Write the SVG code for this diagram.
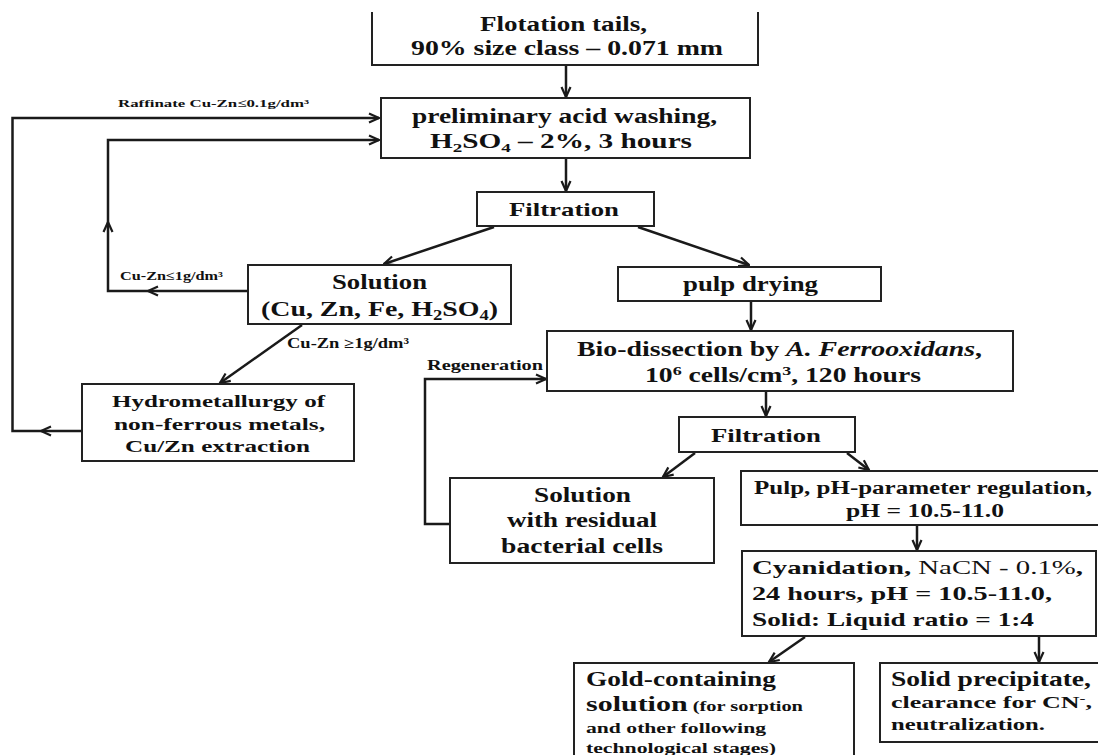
<svg xmlns="http://www.w3.org/2000/svg" width="1098" height="755" viewBox="0 0 1098 755">
<style>
.box{fill:#fff;stroke:#222;stroke-width:2}
.t{font-family:"Liberation Serif","Times New Roman",serif;font-weight:bold;fill:#111}
.n{font-weight:normal}
.c{fill:none;stroke:#1a1a1a;stroke-width:2.5}
</style>
<defs>
<marker id="ar" viewBox="0 0 12 12" refX="11" refY="6" markerWidth="12" markerHeight="12" markerUnits="userSpaceOnUse" orient="auto">
<path d="M1,1.5 L11,6 L1,10.5" fill="none" stroke="#1a1a1a" stroke-width="2.2"/>
</marker>
</defs>
<rect width="1098" height="755" fill="#fff"/>
<g id="connectors">
<path class="c" d="M566,66 V97" marker-end="url(#ar)"/>
<path class="c" d="M566,158 V191" marker-end="url(#ar)"/>
<path class="c" d="M494,227 L384,264" marker-end="url(#ar)"/>
<path class="c" d="M638,227 L749,265" marker-end="url(#ar)"/>
<path class="c" d="M248,291 H148" marker-end="url(#ar)"/>
<path class="c" d="M148,291 H108 V222" marker-end="url(#ar)"/>
<path class="c" d="M108,222 V140 H379" marker-end="url(#ar)"/>
<path class="c" d="M82,431 H41" marker-end="url(#ar)"/>
<path class="c" d="M41,431 H12.5 V118 H379" marker-end="url(#ar)"/>
<path class="c" d="M302,325 L220,383" marker-end="url(#ar)"/>
<path class="c" d="M751,301 V330" marker-end="url(#ar)"/>
<path class="c" d="M766,391 V416" marker-end="url(#ar)"/>
<path class="c" d="M450,524 H425 V379 H546" marker-end="url(#ar)"/>
<path class="c" d="M695,453 L663,477" marker-end="url(#ar)"/>
<path class="c" d="M847,453 L869,470" marker-end="url(#ar)"/>
<path class="c" d="M917,525 V550" marker-end="url(#ar)"/>
<path class="c" d="M805,637 L769,662" marker-end="url(#ar)"/>
<path class="c" d="M1039,636 V662" marker-end="url(#ar)"/>
<text class="t" x="118" y="107" font-size="11" textLength="191" lengthAdjust="spacingAndGlyphs">Raffinate  Cu-Zn≤0.1g/dm³</text>
<text class="t" x="120" y="280" font-size="12.5" textLength="103" lengthAdjust="spacingAndGlyphs">Cu-Zn≤1g/dm³</text>
<text class="t" x="287" y="348" font-size="14" textLength="122" lengthAdjust="spacingAndGlyphs">Cu-Zn ≥1g/dm³</text>
<text class="t" x="427" y="370" font-size="14.5" textLength="116" lengthAdjust="spacingAndGlyphs">Regeneration</text>
</g>
<g id="flotation">
<path d="M372,12 V65 H758 V12" fill="#fff" stroke="#222" stroke-width="2"/>
<text class="t" x="480" y="31" font-size="20" textLength="167" lengthAdjust="spacingAndGlyphs">Flotation tails,</text>
<text class="t" x="411" y="55" font-size="20" textLength="312" lengthAdjust="spacingAndGlyphs">90% size class – 0.071 mm</text>
</g>
<g id="washing">
<rect class="box" x="381" y="98" width="369" height="60"/>
<text class="t" x="412" y="123" font-size="20" textLength="305" lengthAdjust="spacingAndGlyphs">preliminary  acid  washing,</text>
<text class="t" x="430" y="148" font-size="20" textLength="262" lengthAdjust="spacingAndGlyphs">H<tspan font-size="13" dy="4">2</tspan><tspan dy="-4">SO</tspan><tspan font-size="13" dy="4">4</tspan><tspan dy="-4"> – 2%, 3 hours</tspan></text>
</g>
<g id="filtration1">
<rect class="box" x="477" y="192" width="177" height="34"/>
<text class="t" x="509" y="216" font-size="19" textLength="110" lengthAdjust="spacingAndGlyphs">Filtration</text>
</g>
<g id="solution">
<rect class="box" x="248" y="265" width="263" height="59"/>
<text class="t" x="332" y="289" font-size="21" textLength="95" lengthAdjust="spacingAndGlyphs">Solution</text>
<text class="t" x="261" y="316" font-size="21" textLength="237" lengthAdjust="spacingAndGlyphs">(Cu, Zn,  Fe, H<tspan font-size="14" dy="4">2</tspan><tspan dy="-4">SO</tspan><tspan font-size="14" dy="4">4</tspan><tspan dy="-4">)</tspan></text>
</g>
<g id="pulp-drying">
<rect class="box" x="618" y="267" width="263" height="34"/>
<text class="t" x="683" y="291" font-size="20" textLength="135" lengthAdjust="spacingAndGlyphs">pulp drying</text>
</g>
<g id="hydrometallurgy">
<rect class="box" x="82" y="384" width="272" height="77"/>
<text class="t" x="112" y="407" font-size="17" textLength="213" lengthAdjust="spacingAndGlyphs">Hydrometallurgy of</text>
<text class="t" x="114" y="430" font-size="17" textLength="211" lengthAdjust="spacingAndGlyphs">non-ferrous metals,</text>
<text class="t" x="125" y="452" font-size="17" textLength="185" lengthAdjust="spacingAndGlyphs">Cu/Zn extraction</text>
</g>
<g id="bio-dissection">
<rect class="box" x="547" y="331" width="466" height="60"/>
<text class="t" x="577" y="356" font-size="20" textLength="405" lengthAdjust="spacingAndGlyphs">Bio-dissection by <tspan font-style="italic">A. Ferrooxidans</tspan>,</text>
<text class="t" x="645" y="382" font-size="20" textLength="276" lengthAdjust="spacingAndGlyphs">10<tspan font-size="13" dy="-7">6</tspan><tspan dy="7"> cells/cm</tspan><tspan font-size="13" dy="-7">3</tspan><tspan dy="7">,  120 hours</tspan></text>
</g>
<g id="filtration2">
<rect class="box" x="679" y="417" width="176" height="35"/>
<text class="t" x="711" y="442" font-size="19" textLength="110" lengthAdjust="spacingAndGlyphs">Filtration</text>
</g>
<g id="residual-solution">
<rect class="box" x="450" y="478" width="264" height="85"/>
<text class="t" x="534" y="502" font-size="20" textLength="97" lengthAdjust="spacingAndGlyphs">Solution</text>
<text class="t" x="507" y="527" font-size="20" textLength="150" lengthAdjust="spacingAndGlyphs">with residual</text>
<text class="t" x="501" y="553" font-size="20" textLength="162" lengthAdjust="spacingAndGlyphs">bacterial  cells</text>
</g>
<g id="pulp-ph">
<rect class="box" x="741" y="471" width="370" height="54"/>
<text class="t" x="754" y="494" font-size="18" textLength="338" lengthAdjust="spacingAndGlyphs">Pulp, pH-parameter regulation,</text>
<text class="t" x="846" y="517" font-size="18" textLength="158" lengthAdjust="spacingAndGlyphs">pH = 10.5-11.0</text>
</g>
<g id="cyanidation">
<rect class="box" x="742" y="551" width="354" height="85"/>
<text class="t" x="752" y="574" font-size="19" textLength="331" lengthAdjust="spacingAndGlyphs">Cyanidation,  <tspan class="n">NaCN - 0.1%</tspan>,</text>
<text class="t" x="752" y="600" font-size="19" textLength="300" lengthAdjust="spacingAndGlyphs">24 hours,  pH = 10.5-11.0,</text>
<text class="t" x="752" y="626" font-size="19" textLength="282" lengthAdjust="spacingAndGlyphs">Solid: Liquid ratio = 1:4</text>
</g>
<g id="gold-solution">
<rect class="box" x="574" y="663" width="280" height="110"/>
<text class="t" x="586" y="686" font-size="22" textLength="190" lengthAdjust="spacingAndGlyphs">Gold-containing</text>
<text class="t" x="586" y="711" font-size="22" textLength="217" lengthAdjust="spacingAndGlyphs">solution<tspan font-size="15"> (for sorption</tspan></text>
<text class="t" x="586" y="733" font-size="15" textLength="180" lengthAdjust="spacingAndGlyphs">and other following</text>
<text class="t" x="586" y="753" font-size="15" textLength="190" lengthAdjust="spacingAndGlyphs">technological stages)</text>
</g>
<g id="solid-precipitate">
<rect class="box" x="880" y="663" width="230" height="79"/>
<text class="t" x="891" y="686" font-size="22" textLength="200" lengthAdjust="spacingAndGlyphs">Solid precipitate,</text>
<text class="t" x="891" y="708" font-size="16" textLength="201" lengthAdjust="spacingAndGlyphs">clearance for  CN<tspan font-size="11" dy="-6">-</tspan><tspan dy="6">,</tspan></text>
<text class="t" x="891" y="730" font-size="16" textLength="154" lengthAdjust="spacingAndGlyphs">neutralization.</text>
</g>
</svg>
